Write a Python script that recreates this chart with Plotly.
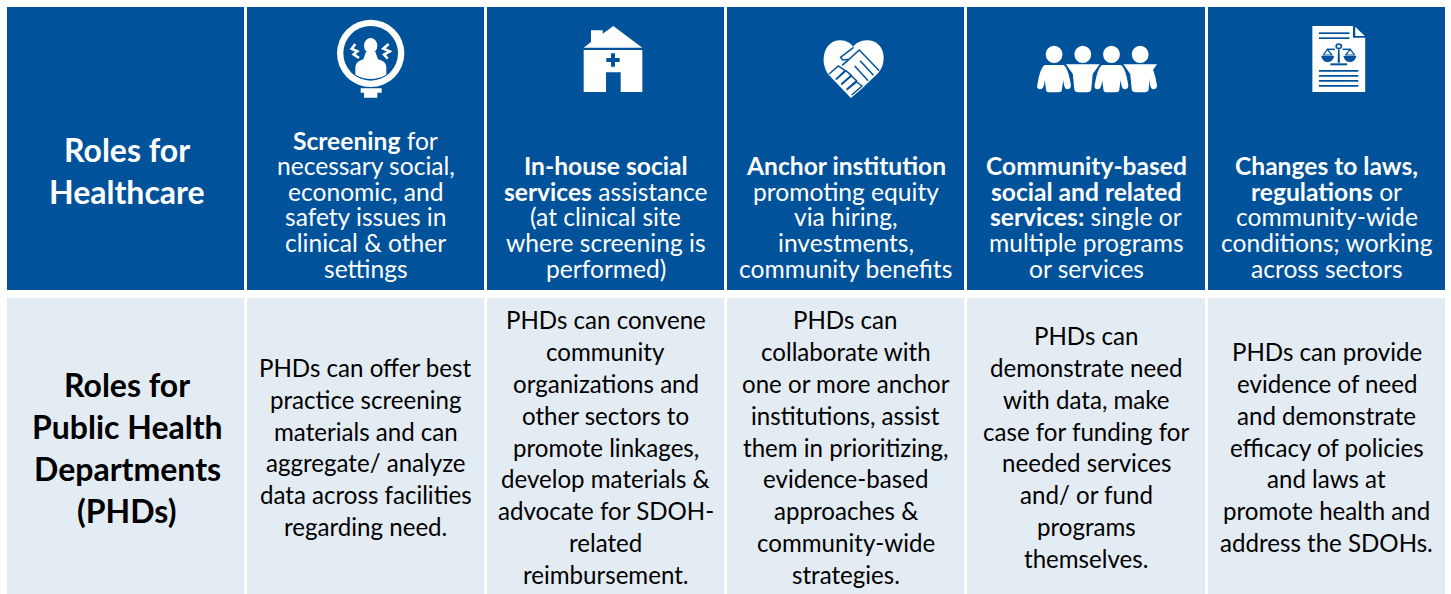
import plotly.graph_objects as go

BLUE = "#00529B"
LIGHT = "#E3EBF3"
FONT = "Lato"

col_edges = [(7, 244), (247, 484), (487, 724), (727, 964), (967, 1205), (1208, 1445)]
row_edges = [(7, 290), (298, 594)]

row_titles = [["Roles for", "Healthcare"],
              ["Roles for", "Public Health", "Departments", "(PHDs)"]]

healthcare_roles = [
    ["<b>Screening</b> for", "necessary social,", "economic, and", "safety issues in", "clinical & other", "settings"],
    ["<b>In-house social</b>", "<b>services</b> assistance", "(at clinical site", "where screening is", "performed)"],
    ["<b>Anchor institution</b>", "promoting equity", "via hiring,", "investments,", "community benefits"],
    ["<b>Community-based</b>", "<b>social and related</b>", "<b>services:</b> single or", "multiple programs", "or services"],
    ["<b>Changes to laws,</b>", "<b>regulations</b> or", "community-wide", "conditions; working", "across sectors"],
]

phd_roles = [
    ["PHDs can offer best", "practice screening", "materials and can", "aggregate/ analyze", "data across facilities", "regarding need."],
    ["PHDs can convene", "community", "organizations and", "other sectors to", "promote linkages,", "develop materials &", "advocate for SDOH-", "related", "reimbursement."],
    ["PHDs can", "collaborate with", "one or more anchor", "institutions, assist", "them in prioritizing,", "evidence-based", "approaches &", "community-wide", "strategies."],
    ["PHDs can", "demonstrate need", "with data, make", "case for funding for", "needed services", "and/ or fund", "programs", "themselves."],
    ["PHDs can provide", "evidence of need", "and demonstrate", "efficacy of policies", "and laws at", "promote health and", "address the SDOHs."],
]

shapes, annotations = [], []

O1 = 300
O2 = 800
SCALE = {O1: 3.0, O2: 1568 / 600}


def rect(x0, y0, x1, y1, color):
    shapes.append(dict(type="rect", xref="x", yref="y", x0=x0, y0=y0, x1=x1, y1=y1,
                       fillcolor=color, line=dict(width=0), layer="below"))


def ell(ox, cx, cy, rx, ry, color):
    s = SCALE[ox]
    X, Y = ox + cx / s, cy / 3
    shapes.append(dict(type="circle", xref="x", yref="y", x0=X - rx / s, y0=Y - ry / 3, x1=X + rx / s, y1=Y + ry / 3,
                       fillcolor=color, line=dict(width=0), layer="above"))


def path(d, ox, fill=None, stroke=None, w=1.0):
    """d: list of (cmd, coords...) in zoom-crop pixels; ox is the crop's x origin."""
    s = SCALE[ox]
    out = []
    for seg in d:
        cmd, *c = seg
        pts = []
        for i in range(0, len(c), 2):
            pts.append(f"{ox + c[i] / s:.2f},{c[i + 1] / 3:.2f}")
        out.append(cmd + " ".join(pts))
    shapes.append(dict(type="path", xref="x", yref="y", path=" ".join(out),
                       fillcolor=fill if fill else "rgba(0,0,0,0)",
                       line=dict(width=w if stroke else 0, color=stroke if stroke else "rgba(0,0,0,0)"),
                       layer="above"))


def poly(points, ox, fill=None, stroke=None, w=1.0, close=True):
    d = [("M", *points[0])] + [("L", *p) for p in points[1:]]
    if close:
        d.append(("Z",))
    path(d, ox, fill, stroke, w)


def text(x, y, s, size, color, bold=False):
    annotations.append(dict(xref="x", yref="y", x=x, y=y, text=f"<b>{s}</b>" if bold else s,
                            showarrow=False, xanchor="center", yanchor="middle",
                            font=dict(family=FONT, size=size, color=color)))


# cells
for r, (y0, y1) in enumerate(row_edges):
    for x0, x1 in col_edges:
        rect(x0, y0, x1, y1, BLUE if r == 0 else LIGHT)

# row titles
for i, line in enumerate(row_titles[0]):
    text(127, 149 + 42 * i, line, 32, "white", bold=True)
for i, line in enumerate(row_titles[1]):
    text(127, 384 + 42 * i, line, 32, "black", bold=True)

# healthcare text, bottom-aligned
for c, lines in enumerate(healthcare_roles):
    cx = (col_edges[c + 1][0] + col_edges[c + 1][1]) / 2
    for i, line in enumerate(lines):
        y = 268 - 25.6 * (len(lines) - 1 - i)
        text(cx, y, line, 24.6, "white")

# PHD text, centred on the row
for c, lines in enumerate(phd_roles):
    cx = (col_edges[c + 1][0] + col_edges[c + 1][1]) / 2
    for i, line in enumerate(lines):
        y = 447 + 31.9 * (i - (len(lines) - 1) / 2)
        text(cx, y, line, 24.1, "black")

# ---- icon 1: screening
ell(O1, 212, 160, 101, 101, "white")
ell(O1, 212, 160, 82, 82, BLUE)
ell(O1, 212, 137, 20, 23, "white")
path([("M", 198, 155), ("L", 226, 155), ("L", 234, 178), ("Q", 258, 184, 259, 200), ("L", 259, 224),
      ("Q", 212, 250, 166, 224), ("L", 166, 200), ("Q", 168, 184, 190, 178), ("Z",)], O1, fill="white")
poly([(166, 132), (155, 146), (172, 154), (161, 163), (177, 174)], O1, stroke="white", w=2.6, close=False)
poly([(266, 132), (250, 146), (269, 154), (252, 164), (263, 176)], O1, stroke="white", w=2.6, close=False)
poly([(182, 265), (245, 265), (245, 278), (232, 278), (232, 293), (192, 293), (192, 278), (182, 278)], O1, fill="white")

# ---- icon 2: house
poly([(940, 78), (1027, 143), (851, 143), (873, 126), (873, 91), (908, 91), (908, 101)], O1, fill="white")
poly([(851, 150), (1027, 150), (1027, 276), (962, 276), (962, 217), (918, 217), (918, 276), (851, 276)], O1, fill="white")
poly([(933, 160), (945, 160), (945, 174), (959, 174), (959, 186), (945, 186), (945, 200), (933, 200),
      (933, 186), (919, 186), (919, 174), (933, 174)], O1, fill=BLUE)

# ---- icon 3: heart with handshake
path([("M", 133, 294), ("L", 76, 226), ("C", 50, 190, 60, 122, 105, 121), ("C", 122, 121, 132, 130, 139, 140),
      ("C", 146, 130, 158, 121, 175, 121), ("C", 225, 122, 228, 190, 205, 218), ("L", 160, 268), ("Z",)], O2, fill="white")
poly([(140, 142), (106, 172), (112, 180), (128, 178), (155, 150), (207, 212)], O2, stroke=BLUE, w=1.5, close=False)
poly([(157, 182), (192, 226)], O2, stroke=BLUE, w=1.5, close=False)
poly([(143, 198), (178, 242)], O2, stroke=BLUE, w=1.5, close=False)
poly([(128, 178), (110, 196)], O2, stroke=BLUE, w=1.5, close=False)
poly([(76, 222), (100, 198), (118, 212), (94, 238)], O2, stroke=BLUE, w=1.5, close=False)
poly([(94, 238), (120, 212), (134, 226), (108, 252)], O2, stroke=BLUE, w=1.5, close=False)
poly([(108, 254), (134, 228), (148, 242), (122, 268)], O2, stroke=BLUE, w=1.5, close=False)
poly([(122, 270), (148, 246), (162, 258), (135, 285)], O2, stroke=BLUE, w=1.5, close=False)

# ---- icon 4: four people
for hx in (664, 739, 814, 889):
    ell(O2, hx, 163, 22, 26, "white")
for bx in (664, 814):
    path([("M", bx - 24, 195), ("L", bx + 24, 195), ("Q", bx + 36, 200, bx + 44, 256), ("Q", bx + 44, 268, bx + 34, 268),
          ("Q", bx + 26, 268, bx + 24, 240), ("L", bx + 20, 272), ("Q", bx + 18, 277, bx + 10, 277),
          ("L", bx - 12, 277), ("Q", bx - 20, 277, bx - 21, 270), ("L", bx - 24, 240), ("Q", bx - 26, 268, bx - 36, 268),
          ("Q", bx - 46, 268, bx - 44, 256), ("Q", bx - 36, 200, bx - 24, 195), ("Z",)], O2, fill="white")
for bx in (739, 889):
    path([("M", bx - 44, 193), ("L", bx + 44, 193), ("L", bx + 26, 222), ("L", bx + 22, 270), ("Q", bx + 20, 277, bx + 12, 277),
          ("L", bx - 12, 277), ("Q", bx - 20, 277, bx - 22, 270), ("L", bx - 26, 222), ("Z",)], O2, fill="white")
path([("M", 909, 195), ("L", 915, 195), ("Q", 925, 205, 933, 256), ("Q", 933, 268, 923, 268),
      ("Q", 915, 268, 913, 240), ("Z",)], O2, fill="white")

# ---- icon 5: document with scales
poly([(1339, 78), (1445, 78), (1445, 113), (1477, 113), (1477, 276), (1339, 276)], O2, fill="white")
poly([(1451, 80), (1476, 108), (1451, 108)], O2, fill="white")
for y in (97, 112):
    poly([(1356, y), (1436, y), (1436, y + 5), (1356, y + 5)], O2, fill=BLUE)
for y in (210, 225, 240, 255):
    poly([(1356, y), (1459, y), (1459, y + 5), (1356, y + 5)], O2, fill=BLUE)
ell(O2, 1408, 139, 9, 9, BLUE)
ell(O2, 1408, 139, 4.5, 4.5, "white")
poly([(1378, 148), (1398, 148)], O2, stroke=BLUE, w=1.5, close=False)
poly([(1418, 148), (1438, 148)], O2, stroke=BLUE, w=1.5, close=False)
poly([(1406, 148), (1410, 148), (1411, 188), (1405, 188)], O2, fill=BLUE)
poly([(1386, 190), (1430, 190), (1430, 196), (1386, 196)], O2, fill=BLUE)
poly([(1378, 148), (1368, 165), (1390, 165)], O2, stroke=BLUE, w=1.2)
poly([(1438, 148), (1426, 165), (1449, 165)], O2, stroke=BLUE, w=1.2)
path([("M", 1362, 168), ("L", 1396, 168), ("Q", 1392, 186, 1379, 186), ("Q", 1366, 186, 1362, 168), ("Z",)], O2, fill=BLUE)
path([("M", 1420, 168), ("L", 1454, 168), ("Q", 1450, 186, 1437, 186), ("Q", 1424, 186, 1420, 168), ("Z",)], O2, fill=BLUE)

fig = go.Figure()
fig.update_layout(
    width=1451, height=594, autosize=False,
    margin=dict(l=0, r=0, t=0, b=0), paper_bgcolor="white", plot_bgcolor="white",
    xaxis=dict(range=[0, 1451], visible=False, fixedrange=True),
    yaxis=dict(range=[594, 0], visible=False, fixedrange=True),
    shapes=shapes, annotations=annotations, showlegend=False,
)
fig.write_html("out.html", config=dict(displayModeBar=False),
               post_script="document.body.style.margin='0';document.body.style.overflow='hidden';")
